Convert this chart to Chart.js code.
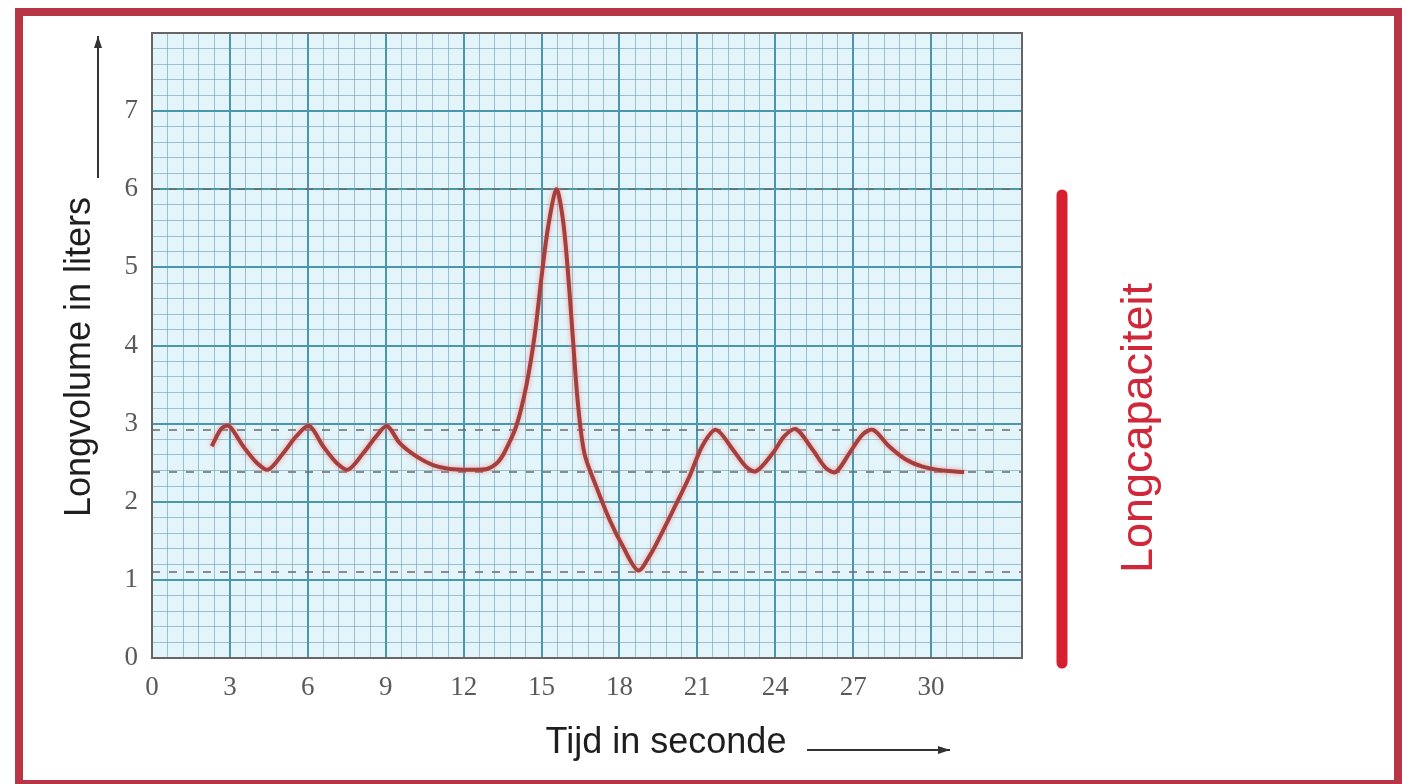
<!DOCTYPE html>
<html>
<head>
<meta charset="utf-8">
<script src="https://cdn.jsdelivr.net/npm/chart.js@4.4.1/dist/chart.umd.min.js"></script>
<style>
html, body { margin: 0; padding: 0; background: #fff; }
canvas { display: block; }
</style>
</head>
<body>
<canvas id="chart1" width="1410" height="784"></canvas>
<script>
// gemeten waarden uit de grafiek
var tijd = [2.3, 2.68, 2.97, 3.51, 4.03, 4.47, 5.05, 5.56, 6.05, 6.59, 7.10, 7.55, 8.13, 8.64, 9.05,
    9.54, 10.18, 10.82, 11.46, 12.2, 12.9, 13.3, 13.6, 14.03, 14.41, 14.73, 14.99, 15.24, 15.57,
    15.82, 16.01, 16.2, 16.4, 16.65, 17.1, 17.62, 18.13, 18.72, 19.2, 19.6, 20.05, 20.69, 21.2, 21.72,
    22.36, 22.87, 23.26, 23.9, 24.35, 24.8, 25.43, 25.95, 26.33, 26.85, 27.36, 27.77,
    28.38, 29.03, 29.67, 30.44, 31.27];
var volume = [2.71, 2.94, 2.97, 2.71, 2.50, 2.41, 2.62, 2.84, 2.97, 2.71, 2.50, 2.41, 2.62, 2.84, 2.97,
    2.75, 2.58, 2.47, 2.42, 2.41, 2.42, 2.5, 2.65, 2.97, 3.48, 4.12, 4.85, 5.49, 6.0,
    5.62, 4.97, 4.12, 3.26, 2.62, 2.2, 1.77, 1.43, 1.12, 1.33, 1.58, 1.88, 2.32, 2.72, 2.92,
    2.67, 2.45, 2.39, 2.62, 2.84, 2.93, 2.67, 2.43, 2.38, 2.62, 2.86, 2.92,
    2.71, 2.54, 2.45, 2.40, 2.38];
var niveaus = [6.0, 2.92, 2.38, 1.1];
var xLabels = [0, 3, 6, 9, 12, 15, 18, 21, 24, 27, 30];
var yLabels = [0, 1, 2, 3, 4, 5, 6, 7];
var xMax = 33.5;
var yMax = 8;

var punten = tijd.map(function (t, i) { return { x: t, y: volume[i] }; });

var datasets = [{
    data: punten,
    borderColor: '#a3403e',
    borderWidth: 4,
    pointRadius: 0,
    tension: 0.3,
    order: 0
}];
niveaus.forEach(function (v) {
    datasets.push({
        data: [{ x: 0, y: v }, { x: xMax, y: v }],
        borderColor: '#6a6a6a',
        borderWidth: 1.5,
        borderDash: [8, 9],
        pointRadius: 0,
        order: 1
    });
});

function isLabel(list, value) {
    return list.some(function (l) { return Math.abs(l - value) < 1e-6; });
}
function isMajor(value, step) {
    var r = value / step;
    return Math.abs(r - Math.round(r)) < 1e-6;
}

function pijl(ctx, x1, y1, x2, y2) {
    var a = Math.atan2(y2 - y1, x2 - x1);
    ctx.beginPath();
    ctx.moveTo(x1, y1);
    ctx.lineTo(x2, y2);
    ctx.stroke();
    ctx.beginPath();
    ctx.moveTo(x2, y2);
    ctx.lineTo(x2 - 12 * Math.cos(a) + 4 * Math.sin(a), y2 - 12 * Math.sin(a) - 4 * Math.cos(a));
    ctx.lineTo(x2 - 12 * Math.cos(a) - 4 * Math.sin(a), y2 - 12 * Math.sin(a) + 4 * Math.cos(a));
    ctx.closePath();
    ctx.fill();
}

var papier = {
    id: 'papier',
    beforeDraw: function (chart) {
        var ctx = chart.ctx, a = chart.chartArea;
        ctx.save();
        ctx.fillStyle = '#ffffff';
        ctx.fillRect(0, 0, chart.width, chart.height);
        ctx.fillStyle = '#e3f5fa';
        ctx.fillRect(a.left, a.top, a.right - a.left, a.bottom - a.top);
        ctx.restore();
    },
    beforeDatasetDraw: function (chart, args) {
        if (args.index === 0) {
            chart.ctx.save();
            chart.ctx.shadowColor = 'rgba(255, 110, 110, 0.7)';
            chart.ctx.shadowBlur = 5;
        }
    },
    afterDatasetDraw: function (chart, args) {
        if (args.index === 0) chart.ctx.restore();
    },
    afterDraw: function (chart) {
        var ctx = chart.ctx, a = chart.chartArea;
        ctx.save();
        // kader om het grafiekpapier
        ctx.strokeStyle = '#666';
        ctx.lineWidth = 2;
        ctx.strokeRect(a.left, a.top, a.right - a.left, a.bottom - a.top);

        // rode rand
        ctx.strokeStyle = '#b83545';
        ctx.lineWidth = 8;
        ctx.strokeRect(19, 12, 1379, 772);

        // astitels
        ctx.fillStyle = '#1e1e1e';
        ctx.font = '36px "Liberation Sans", Arial, sans-serif';
        ctx.textAlign = 'center';
        ctx.textBaseline = 'alphabetic';
        ctx.fillText('Tijd in seconde', 666, 753);
        ctx.save();
        ctx.translate(90, 357);
        ctx.rotate(-Math.PI / 2);
        ctx.fillText('Longvolume in liters', 0, 0);
        ctx.restore();

        ctx.strokeStyle = '#333';
        ctx.fillStyle = '#333';
        ctx.lineWidth = 2;
        pijl(ctx, 98, 178, 98, 36);
        pijl(ctx, 807, 750, 950, 750);

        // longcapaciteit
        ctx.strokeStyle = '#d6202f';
        ctx.lineWidth = 11;
        ctx.lineCap = 'round';
        ctx.beginPath();
        ctx.moveTo(1062, 195);
        ctx.lineTo(1062, 663);
        ctx.stroke();

        ctx.fillStyle = '#d0283a';
        ctx.font = '45px "Liberation Sans", Arial, sans-serif';
        ctx.translate(1152, 428);
        ctx.rotate(-Math.PI / 2);
        ctx.fillText('Longcapaciteit', 0, 0);
        ctx.restore();
    }
};

var ctx = document.getElementById("chart1").getContext('2d');
var chart1 = new Chart(ctx, {
    type: 'line',
    data: { datasets: datasets },
    plugins: [papier],
    options: {
        responsive: false,
        animation: false,
        layout: { padding: { left: 112, top: 33, right: 388, bottom: 66 } },
        plugins: { legend: { display: false }, tooltip: { enabled: false } },
        scales: {
            x: {
                type: 'linear',
                min: 0,
                max: xMax,
                afterFit: function (scale) { scale.height = 60; },
                border: { display: false },
                grid: {
                    drawTicks: false,
                    color: function (c) { return isMajor(c.tick.value, 3) ? '#4a97ad' : 'rgba(95, 150, 170, 0.55)'; },
                    lineWidth: function (c) { return isMajor(c.tick.value, 3) ? 2 : 1; }
                },
                ticks: {
                    stepSize: 0.6,
                    autoSkip: false,
                    maxRotation: 0,
                    padding: 14,
                    color: '#5a5a5a',
                    font: { family: '"Liberation Serif", "Times New Roman", serif', size: 27 },
                    callback: function (value) { return isLabel(xLabels, value) ? String(Math.round(value)) : ''; }
                }
            },
            y: {
                type: 'linear',
                min: 0,
                max: yMax,
                afterFit: function (scale) { scale.width = 40; },
                border: { display: false },
                grid: {
                    drawTicks: false,
                    color: function (c) { return isMajor(c.tick.value, 1) ? '#4a97ad' : 'rgba(95, 150, 170, 0.55)'; },
                    lineWidth: function (c) { return isMajor(c.tick.value, 1) ? 2 : 1; }
                },
                ticks: {
                    stepSize: 0.2,
                    autoSkip: false,
                    padding: 14,
                    color: '#5a5a5a',
                    font: { family: '"Liberation Serif", "Times New Roman", serif', size: 27 },
                    callback: function (value) { return isLabel(yLabels, value) ? String(Math.round(value)) : ''; }
                }
            }
        }
    }
});
</script>
</body>
</html>
